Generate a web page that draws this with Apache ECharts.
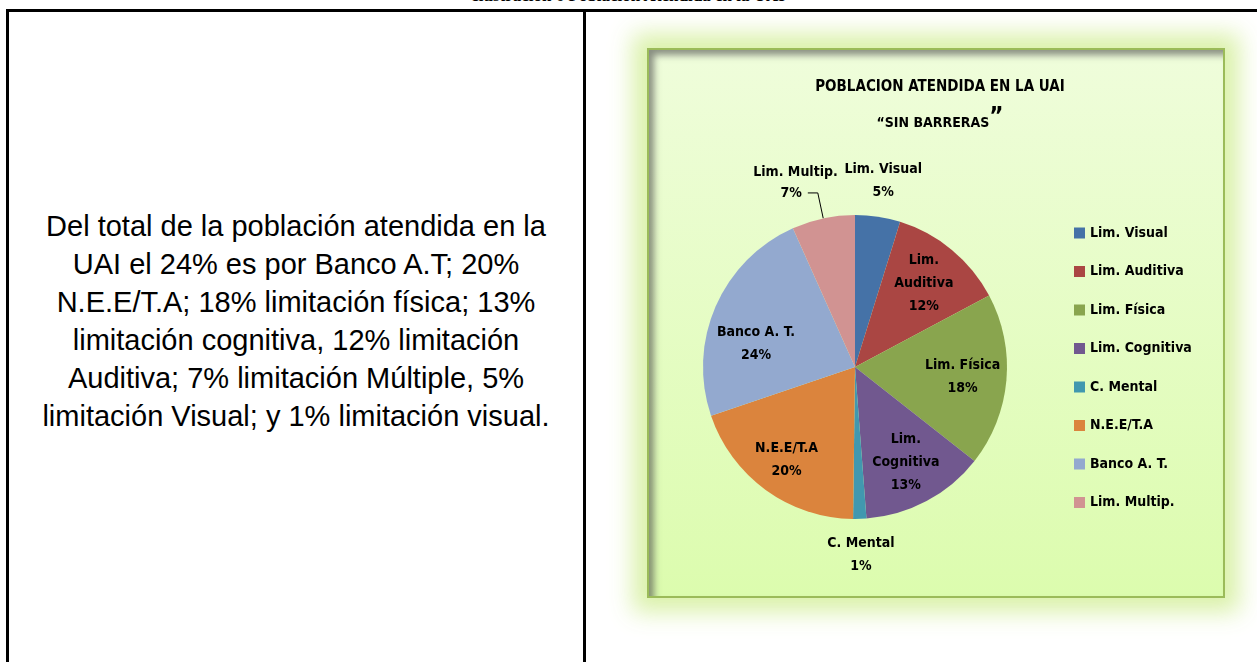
<!DOCTYPE html>
<html>
<head>
<meta charset="utf-8">
<script src="https://cdn.jsdelivr.net/npm/echarts@6/dist/echarts.min.js"></script>
<style>
  html, body { margin: 0; padding: 0; background: #fff; width: 1257px; height: 662px; overflow: hidden; position: relative; }
  #cap { position: absolute; left: 0; top: -14px; width: 1257px; text-align: center; font: bold 17px "Liberation Serif", serif; color: #000; }
  #topline { position: absolute; left: 6px; top: 9px; width: 1251px; height: 3px; background: #000; }
  #leftline { position: absolute; left: 6px; top: 9px; width: 3px; height: 653px; background: #000; }
  #midline { position: absolute; left: 583px; top: 9px; width: 3px; height: 653px; background: #000; }
  #txt { position: absolute; left: 9px; width: 574px; top: 207px; text-align: center; font: 29px/38px "Liberation Sans", Arial, sans-serif; color: #000; white-space: nowrap; }
  #frame { position: absolute; left: 647px; top: 48px; width: 574px; height: 546px; border: 2px solid #9bbb59;
           background: linear-gradient(#effddb, #dcfcae);
           box-shadow: 0 0 22px 14px rgba(214, 240, 160, 0.9), inset 6px 6px 7px -1px rgba(70, 70, 70, 0.6); }
  #box { position: absolute; left: 0; top: 0; width: 1257px; height: 662px; }
</style>
</head>
<body>
<div id="cap">Ilustración 6 Población Atendida en la UAI</div>
<div id="topline"></div>
<div id="leftline"></div>
<div id="midline"></div>
<div id="txt">Del total de la población atendida en la<br>UAI el 24% es por Banco A.T; 20%<br>N.E.E/T.A; 18% limitación física; 13%<br>limitación cognitiva, 12% limitación<br>Auditiva; 7% limitación Múltiple, 5%<br>limitación Visual; y 1% limitación visual.</div>
<div id="frame"></div>
<div id="box"></div>
<script>
const categories = ['Lim. Visual', 'Lim. Auditiva', 'Lim. Física', 'Lim. Cognitiva', 'C. Mental', 'N.E.E/T.A', 'Banco A. T.', 'Lim. Multip.']
const labelNames = ['Lim. Visual', 'Lim.\nAuditiva', 'Lim. Física', 'Lim.\nCognitiva', 'C. Mental', 'N.E.E/T.A', 'Banco A. T.', 'Lim. Multip.']
const values = [4.8, 12.4, 18.4, 13.2, 1.4, 19.6, 23.5, 6.7]
const colors = ['#4572a7', '#aa4643', '#89a54e', '#71588f', '#4198af', '#db843d', '#93a9cf', '#d19392']
const insideIdx = [1, 2, 3, 5, 6]
const outsideIdx = [0, 4]
const multipIdx = 7

const font = '"Liberation Sans Narrow", "DejaVu Sans Condensed", sans-serif'
const center = [855, 367]
const labelText = { color: '#000', fontFamily: font, fontSize: 14, fontWeight: 'bold', lineHeight: 23, textBorderWidth: 0 }

const myeCharts = echarts.init(document.getElementById('box'))

// transparent copy of the pie, only used to put the labels at the right distance
function labelPie(radius, idxList) {
  return {
    type: 'pie',
    center: center,
    radius: radius,
    startAngle: 90,
    silent: true,
    legendHoverLink: false,
    percentPrecision: 0,
    emphasis: { disabled: true },
    labelLine: { show: false },
    // Banco label sits a bit lower in the original
    labelLayout: p => (p.dataIndex === 6 ? { dy: 20 } : p.dataIndex === 5 ? { dx: -5, dy: 5 } : {}),
    data: categories.map((name, i) => ({
      name: name,
      value: values[i],
      itemStyle: { color: 'rgba(0,0,0,0)' },
      label: {
        show: idxList.includes(i),
        position: 'inside',
        ...labelText,
        formatter: p => labelNames[p.dataIndex] + '\n' + p.percent + '%'
      }
    }))
  }
}

const option = {
  title: {
    left: 935,
    top: 64,
    textAlign: 'center',
    text: '{a|POBLACION ATENDIDA EN LA UAI}\n{b|“SIN BARRERAS}{q|”}',
    textStyle: {
      rich: {
        a: { fontFamily: font, fontSize: 15, fontWeight: 'bold', color: '#000', lineHeight: 36 },
        b: { fontFamily: font, fontSize: 14, fontWeight: 'bold', color: '#000', lineHeight: 36 },
        q: { fontFamily: font, fontSize: 24, fontWeight: 'bold', color: '#000', lineHeight: 36, padding: [0, 0, 10, 0] }
      }
    }
  },
  legend: {
    orient: 'vertical',
    left: 1069,
    top: 221,
    icon: 'rect',
    itemWidth: 11,
    itemHeight: 11,
    itemGap: 24.5,
    selectedMode: false,
    textStyle: { color: '#000', fontFamily: font, fontSize: 14, fontWeight: 'bold', lineHeight: 14 },
    data: categories.map((name, i) => ({ name: name, itemStyle: { color: colors[i] } }))
  },
  series: [
    {
      type: 'pie',
      center: center,
      radius: 152,
      startAngle: 90,
      percentPrecision: 0,
      emphasis: { scale: false },
      data: categories.map((name, i) => ({
        name: name,
        value: values[i],
        itemStyle: { color: colors[i] },
        label: i === multipIdx ? {
          show: true,
          position: 'outside',
          distanceToLabelLine: -30,
          padding: [0, 0, 21, 0],
          formatter: p => '{a|' + labelNames[p.dataIndex] + '}\n{b|' + p.percent + '%}',
          rich: {
            a: { ...labelText, lineHeight: 21 },
            b: { ...labelText, lineHeight: 21, padding: [0, 36, 0, 0] }
          }
        } : { show: false },
        labelLine: i === multipIdx ? {
          show: true, length: 26, length2: 10,
          lineStyle: { color: '#000', width: 1 }
        } : { show: false }
      }))
    },
    labelPie(210, insideIdx),
    labelPie(370, outsideIdx)
  ]
}
myeCharts.setOption(option)
</script>
</body>
</html>
